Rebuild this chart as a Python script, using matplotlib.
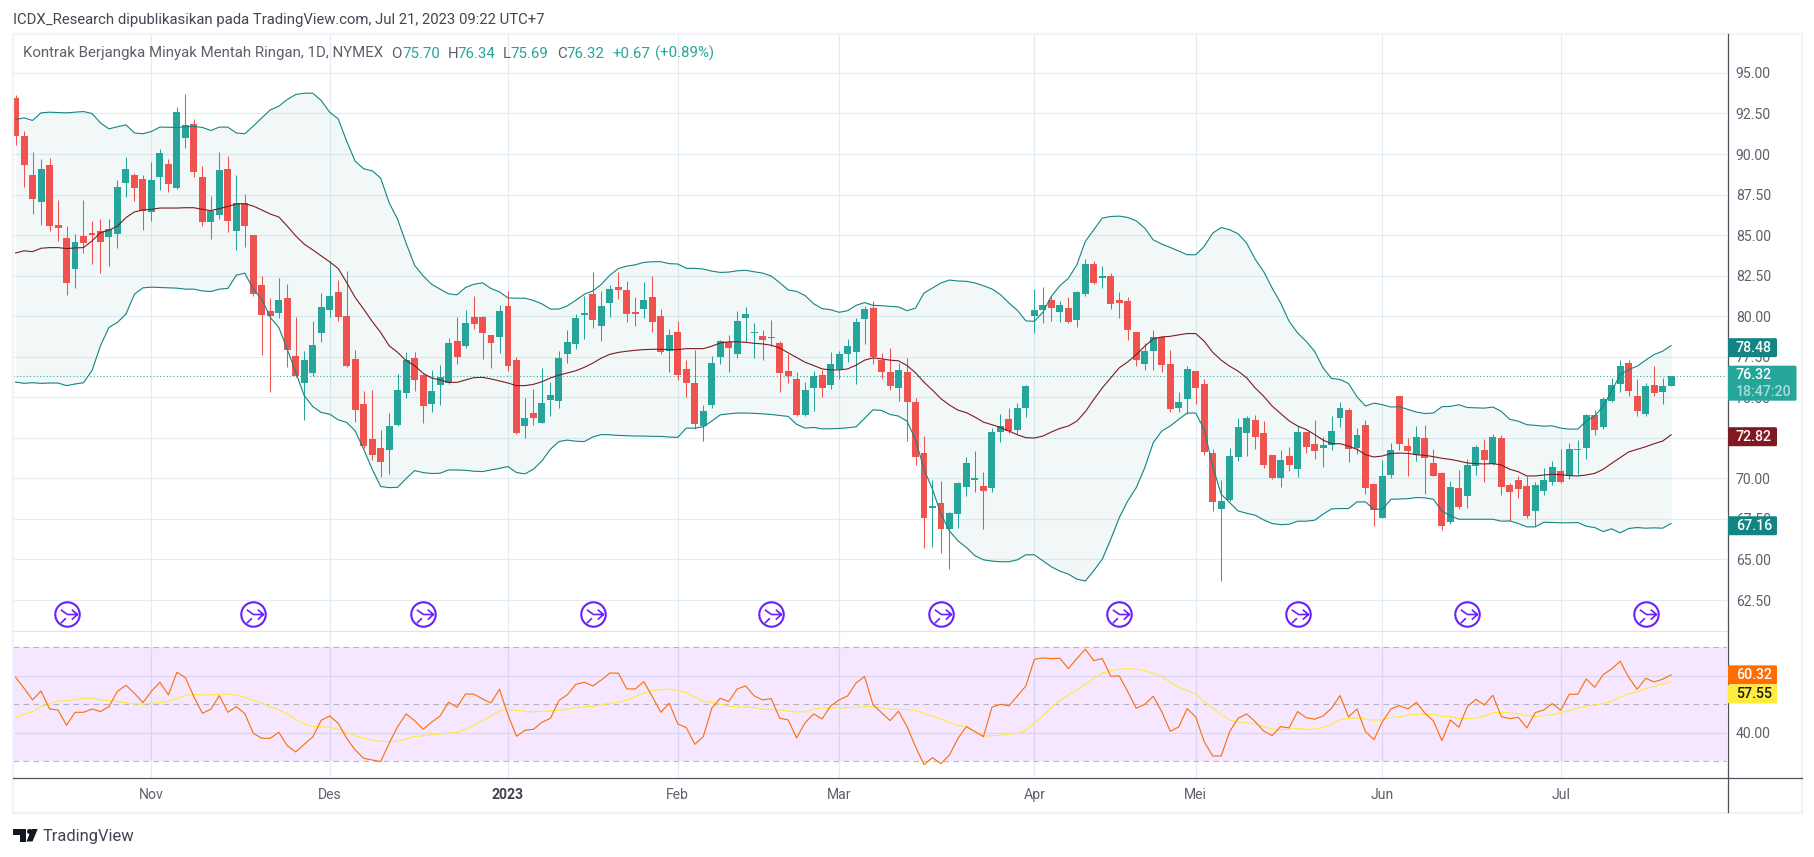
import matplotlib
matplotlib.use('Agg')
import matplotlib.pyplot as plt
import numpy as np
from matplotlib.lines import Line2D
from matplotlib.patches import FancyBboxPatch, Polygon, Circle, Rectangle
from matplotlib.path import Path
from matplotlib.transforms import Affine2D, IdentityTransform

plt.rcParams['font.family'] = ['Roboto', 'DejaVu Sans']

# daily candles
opens = [93.48,91.14,88.68,87.04,89.3,85.6,84.8,82.92,84.93,85.1,
    85.24,84.9,85.07,88.2,88.68,88.44,86.43,88.58,89.36,87.88,
    90.98,91.88,88.56,85.81,86.24,89.05,85.26,86.96,84.99,81.91,
    80.31,80.21,81.11,77.54,75.87,76.52,78.96,80.39,81.48,80.0,
    77.36,74.58,72.42,71.86,71.74,73.28,75.26,77.41,76.37,74.58,
    75.75,75.89,78.46,78.16,79.95,79.95,78.84,78.72,80.63,77.29,
    73.22,74.02,73.41,74.82,74.76,77.66,78.28,80.06,81.36,79.39,
    80.82,81.8,81.64,80.28,80.43,81.21,80.04,77.88,79.05,76.77,
    75.91,73.2,74.5,77.47,78.44,77.64,79.87,78.99,78.8,78.64,
    78.37,76.65,76.1,73.88,75.56,76.4,75.73,76.77,77.7,77.82,
    79.85,80.53,77.33,76.53,75.6,76.59,74.68,71.54,68.16,68.47,
    66.87,67.79,69.45,69.88,69.53,69.39,72.84,73.64,72.96,74.31,
    80.04,80.4,81.02,80.28,80.53,79.79,81.39,83.24,82.33,82.5,
    81.02,80.96,79.05,77.08,77.88,78.74,77.08,74.31,74.87,76.65,
    75.79,71.54,68.1,68.65,71.3,72.78,73.57,72.78,71.42,70.0,
    71.36,70.56,72.84,72.1,71.85,72.04,73.7,74.19,71.85,73.27,
    69.64,67.54,70.19,75.05,71.97,71.42,72.47,70.93,70.31,67.3,
    69.39,68.9,70.74,71.73,70.87,72.47,69.57,69.88,69.51,67.97,
    69.2,69.76,70.44,70.13,71.75,71.85,73.88,73.14,74.8,75.79,
    77.14,75.05,74.0,75.73,75.3,75.70]
closes = [91.1,89.32,87.23,89.1,85.56,85.44,82.06,84.56,84.5,85.0,
    84.6,85.36,87.94,89.1,87.9,86.47,88.37,90.04,88.15,92.62,
    91.8,88.89,85.81,86.49,88.99,85.87,86.96,85.54,81.36,80.09,
    80.03,81.0,77.91,76.29,77.29,78.22,80.56,81.24,79.96,76.95,
    74.21,71.99,71.45,71.02,73.22,75.44,77.29,76.06,74.45,75.38,
    76.24,78.34,77.47,79.58,79.52,78.96,78.34,80.32,76.93,72.79,
    73.71,73.71,74.64,75.13,77.41,78.4,79.88,80.19,79.76,80.63,
    81.68,81.6,80.12,80.12,81.02,79.63,77.82,78.87,76.36,75.87,
    73.33,74.13,77.14,78.5,78.03,79.73,80.16,79.05,78.56,78.72,
    76.49,76.3,73.88,75.42,76.34,75.6,77.08,77.7,78.19,79.67,
    80.47,77.51,76.59,75.67,76.71,74.74,71.3,67.54,68.32,66.87,
    67.85,69.7,70.93,70.0,69.2,72.84,73.2,72.9,74.37,75.67,
    80.4,80.71,80.53,80.71,79.67,81.51,83.24,82.07,82.5,80.77,
    80.84,79.17,77.33,77.88,78.74,77.02,74.25,74.74,76.77,75.6,
    71.6,68.53,68.59,71.36,73.14,73.7,72.53,70.81,70.0,71.11,
    70.81,72.84,71.91,71.67,72.04,72.9,74.37,71.79,72.65,69.39,
    68.04,70.13,71.73,72.1,71.67,72.53,71.24,70.13,67.05,69.45,
    68.22,70.81,71.91,71.11,72.53,69.45,69.14,69.33,67.67,69.57,
    69.88,70.68,69.76,71.79,71.79,73.88,72.96,74.87,75.73,76.9,
    75.36,74.13,75.67,75.24,75.67,76.32]
highs = [93.67,91.39,90.1,89.67,89.73,87.15,85.54,85.05,87.15,85.9,
    86,86,88.4,89.8,88.8,88.7,89.5,90.34,89.67,92.87,
    93.73,92.19,89.24,87.39,90.1,89.85,88.68,87.51,85.0,82.47,
    81.15,82.38,81.97,79.94,77.85,79.7,81.42,83.4,82.22,82.77,
    77.91,75.38,75.44,72.97,74.02,76.41,77.79,77.79,76.43,76.68,
    76.99,78.65,79.94,80.38,81.24,80.0,78.85,80.69,81.55,77.48,
    74.95,75.5,76.8,75.94,77.85,79.17,80.13,81.24,82.72,81.55,
    81.92,82.7,82.19,81.18,82.13,82.5,80.47,79.24,79.73,77.27,
    77.94,74.5,77.57,78.56,78.87,80.34,80.59,79.6,79.17,79.79,
    78.5,77.64,76.53,75.97,76.65,76.71,77.82,77.88,78.62,79.91,
    80.65,80.96,77.76,78.07,77.14,77.45,74.93,72.59,69.88,69.82,
    67.91,69.76,71.3,71.67,70.37,73.08,73.94,74.37,74.62,75.73,
    81.7,81.82,81.27,80.96,81.2,81.57,83.54,83.42,83.11,82.68,
    81.51,81.2,79.05,78.37,79.17,78.8,77.94,75.3,76.9,76.65,
    76.1,71.79,69.88,71.85,73.7,73.82,73.88,73.51,71.42,71.73,
    71.91,73.2,72.84,73.57,72.53,73.82,74.74,74.37,73.08,73.57,
    69.7,71.11,72.16,75.05,72.47,73.2,73.27,71.79,70.37,69.82,
    70.5,71.17,72.04,72.41,72.71,72.65,69.7,70.13,70.13,69.76,
    70.62,71.05,71.79,72.16,72.34,73.94,74.19,75.0,76.16,77.33,
    77.33,76.1,75.91,76.9,76.16,76.34]
lows = [90.53,87.96,86.3,85.6,85.26,84.64,81.3,81.75,83.9,83.2,
    82.67,83.1,84.2,87.35,87.1,85.3,85.9,87.78,87.66,87.84,
    90.4,88.58,85.54,84.76,86.0,85.2,84.09,84.27,81.26,77.63,
    75.35,79.9,76.85,76.23,73.63,76.33,78.43,79.97,79.68,76.85,
    73.49,71.9,71.14,70.09,70.26,73.22,74.95,75.38,73.41,74.08,
    74.52,75.8,77.05,78.04,79.2,77.36,76.8,77.73,76.62,72.73,
    72.48,73.28,73.41,73.84,74.33,77.11,77.97,78.59,79.27,78.46,
    79.95,81.06,79.67,79.42,79.91,79.05,77.64,76.53,76.04,74.99,
    73.02,72.28,74.37,77.08,76.53,77.45,78.39,77.45,77.27,78.19,
    75.3,75.91,73.82,73.82,74.13,74.99,75.54,76.1,77.2,75.85,
    78.31,77.08,76.1,75.42,74.8,72.28,70.81,65.7,65.76,65.39,
    64.4,66.93,68.9,69.14,66.87,69.14,72.22,72.77,72.71,73.76,
    78.99,79.6,79.73,79.67,79.6,79.36,81.27,82.0,81.76,80.47,
    79.91,78.56,76.96,76.71,76.71,76.53,74.07,74.07,74.0,74.56,
    71.42,67.97,63.67,68.59,71.05,71.36,71.79,70.63,69.94,69.45,
    70.46,70.07,71.54,71.17,70.68,71.73,73.14,70.99,71.48,69.02,
    67.05,67.54,70.0,71.73,70.13,71.05,69.02,70.13,66.8,67.17,
    68.1,68.16,70.19,69.76,70.81,68.96,67.36,68.77,67.54,67.05,
    68.96,69.57,69.7,69.94,70.25,71.17,72.65,73.02,74.74,75.3,
    75.11,73.82,73.82,75.05,74.56,75.69]

# bollinger bands
bb_upper = [92.13,92.23,92.07,92.54,92.58,92.56,92.54,92.58,92.62,92.5,
    91.92,91.55,91.68,91.8,91.3,91.25,91.39,91.66,91.65,91.64,
    91.68,91.7,91.64,91.45,91.66,91.66,91.3,91.25,91.72,92.23,
    92.72,92.95,93.36,93.67,93.75,93.75,93.3,92.58,92.17,90.79,
    89.56,89.09,88.97,88.52,87.0,85.97,84.5,83.14,82.49,81.97,
    81.67,81.38,81.32,81.77,81.97,82.06,81.71,81.5,81.13,81.11,
    81.11,80.97,80.76,80.44,80.44,80.64,80.99,81.36,81.56,81.97,
    82.53,82.94,83.09,83.17,83.32,83.36,83.36,83.24,83.22,82.95,
    82.95,82.91,82.78,82.7,82.72,82.8,82.83,82.74,82.66,82.48,
    82.07,81.62,81.53,81.27,80.77,80.47,80.4,80.24,80.34,80.67,
    80.84,80.67,80.65,80.61,80.57,80.34,80.5,81.43,81.74,82.05,
    82.23,82.17,82.15,82.05,81.88,81.68,81.33,80.82,80.36,79.71,
    79.69,80.24,81.23,81.88,82.33,83.17,84.61,85.33,86.05,86.15,
    86.17,86.09,85.88,85.43,84.71,84.45,84.24,84.02,83.79,83.79,
    84.3,85.12,85.47,85.33,85.08,84.51,83.52,82.76,81.74,80.82,
    79.69,78.97,78.46,77.84,76.82,76.16,76.1,75.85,75.03,74.46,
    74.64,74.54,74.4,74.42,74.25,74.09,74.0,74.03,74.42,74.44,
    74.54,74.37,74.35,74.33,74.4,74.13,73.64,73.53,73.31,73.27,
    73.22,73.24,73.1,73.04,73.04,73.53,73.84,74.46,75.38,76.41,
    76.71,76.92,77.29,77.64,77.84,78.19]
bb_mid = [83.9,84.03,83.98,84.19,84.23,84.23,84.17,84.21,84.23,84.64,
    85.15,85.3,85.56,86.08,86.43,86.55,86.59,86.67,86.67,86.67,
    86.69,86.69,86.59,86.51,86.63,86.77,86.92,86.94,86.79,86.55,
    86.3,86.12,85.56,84.95,84.44,84.09,83.72,83.35,82.94,82.08,
    81.15,80.44,79.68,79.0,78.18,77.77,77.26,76.95,76.48,76.19,
    76.07,75.92,75.92,76.07,76.21,76.23,76.13,76.01,75.88,75.72,
    75.72,75.8,75.96,76.19,76.37,76.5,76.64,76.85,77.11,77.42,
    77.65,77.77,77.84,77.9,77.94,77.96,77.96,77.94,77.94,78.0,
    78.0,78.0,78.15,78.35,78.42,78.42,78.39,78.33,78.29,78.21,
    78.05,77.74,77.45,77.16,76.96,76.75,76.69,76.69,76.75,76.98,
    77.29,77.43,77.37,77.29,77.25,76.96,76.51,75.93,75.44,74.91,
    74.52,74.21,74.05,73.78,73.47,73.31,73.14,72.92,72.69,72.51,
    72.49,72.61,72.86,73.08,73.23,73.53,74.11,74.87,75.58,76.2,
    76.82,77.18,77.64,78.15,78.6,78.72,78.76,78.85,78.93,78.93,
    78.46,77.78,77.29,76.92,76.61,76.2,75.58,75.07,74.46,74.0,
    73.55,73.23,73.02,72.71,72.36,72.14,72.14,71.99,71.79,71.46,
    71.32,71.38,71.54,71.56,71.54,71.46,71.42,71.34,71.24,71.17,
    71.07,70.95,70.91,70.89,70.91,70.83,70.56,70.41,70.15,70.15,
    70.21,70.25,70.23,70.17,70.15,70.21,70.31,70.56,70.93,71.28,
    71.63,71.79,71.95,72.14,72.3,72.69]
bb_lower = [75.94,75.86,75.9,75.86,75.88,75.88,75.72,75.82,75.9,76.64,
    78.18,79.31,79.62,80.13,81.36,81.75,81.79,81.77,81.75,81.73,
    81.67,81.67,81.56,81.52,81.67,81.71,82.53,82.65,81.67,81.05,
    79.92,79.31,77.97,76.54,75.1,74.43,74.06,73.96,73.61,73.45,
    72.93,71.8,70.57,69.5,69.43,69.45,69.99,70.48,70.36,70.3,
    70.32,70.52,70.52,70.5,70.44,70.42,70.52,70.62,70.73,70.36,
    70.28,70.57,71.08,71.8,72.27,72.36,72.29,72.27,72.56,72.7,
    72.69,72.65,72.63,72.61,72.61,72.59,72.59,72.55,72.53,73.1,
    73.1,73.18,73.53,73.92,73.98,74.03,74.03,74.01,73.98,73.94,
    73.88,73.82,73.33,73.1,73.14,73.06,73.06,73.08,73.12,73.18,
    73.7,74.23,74.19,73.94,73.84,73.53,72.4,70.56,69.33,67.79,
    66.76,66.15,65.74,65.23,64.98,64.9,64.86,64.86,64.98,65.29,
    65.29,64.92,64.55,64.28,64.1,63.79,63.67,64.31,65.02,66.25,
    67.58,68.61,69.43,70.66,72.2,72.92,73.23,73.64,74.03,74.03,
    73.02,70.76,69.02,68.51,67.99,67.85,67.73,67.44,67.22,67.15,
    67.17,67.36,67.36,67.42,67.79,68.12,68.14,68.14,68.55,68.55,
    68.1,68.1,68.71,68.73,68.75,68.82,68.8,68.71,67.99,67.69,
    67.48,67.48,67.48,67.48,67.48,67.36,67.38,67.22,67.01,67.01,
    67.3,67.28,67.26,67.26,67.28,67.05,66.97,66.72,66.89,66.64,
    66.91,66.97,66.93,66.95,66.93,67.22]

# rsi pane
rsi = [59.47,55.61,51.52,54.68,48.36,48.01,42.63,47.19,47.19,48.36,
    47.43,49.18,54.56,56.67,53.86,50.58,54.56,57.72,53.27,61.23,
    59.36,52.69,46.84,48.25,53.04,47.19,49.18,46.73,39.82,38.07,
    38.07,40.18,35.5,33.27,35.96,38.54,44.39,45.91,43.33,38.07,
    33.98,31.05,30.47,29.88,36.32,42.16,46.61,44.27,41.23,43.68,
    45.91,50.7,48.95,53.63,53.51,51.87,50.47,55.26,46.26,38.77,
    40.88,41.23,43.68,45.09,51.29,53.39,57.02,57.72,56.43,58.54,
    60.99,60.88,55.38,55.38,57.95,52.69,47.19,50.35,43.1,41.81,
    35.96,38.65,48.6,52.11,50.94,55.38,56.43,52.92,51.52,51.99,
    45.09,44.5,38.19,43.57,46.61,44.85,49.42,51.52,52.92,57.49,
    59.71,49.77,47.08,44.27,47.54,42.16,35.15,28.83,31.29,29.18,
    32.22,38.07,42.16,40.41,38.65,48.95,50.0,49.42,52.92,56.43,
    65.79,66.26,66.02,66.14,62.51,66.02,69.3,65.32,66.02,59.82,
    59.94,54.44,48.6,50.0,52.81,47.43,40.53,42.05,48.48,45.56,
    36.9,31.87,31.87,40.41,45.09,46.61,43.92,40.64,39.01,42.16,
    41.7,47.43,45.32,44.74,45.91,48.6,53.04,45.56,48.36,40.41,
    37.6,43.92,48.36,49.53,48.36,50.7,46.84,44.15,37.25,44.5,
    41.93,49.18,51.75,49.77,53.16,45.67,44.97,45.44,41.7,47.08,
    48.01,50.23,47.89,53.51,53.51,58.89,55.96,60.41,62.4,65.09,
    59.47,55.26,59.12,57.84,58.77,60.32]
rsi_ma = [45.32,46.61,47.43,49.18,50.12,51.17,51.17,51.64,52.11,52.11,
    51.52,51.29,50.94,50.47,50.12,50.12,50.35,50.58,51.05,51.99,
    53.16,53.39,53.27,53.27,53.63,53.51,53.16,52.46,51.4,50.47,
    49.18,48.01,46.61,44.74,42.98,42.28,42.05,41.93,41.23,40.18,
    39.01,38.07,37.49,37.02,36.9,37.02,37.84,38.65,39.01,39.36,
    39.59,39.82,40.18,41.23,42.75,44.27,45.91,47.66,48.25,47.89,
    47.54,47.31,47.43,47.66,47.89,48.36,48.83,49.06,49.3,49.77,
    50.35,50.82,51.4,52.69,53.98,54.91,55.03,55.38,54.8,53.98,
    52.69,51.05,50.58,50.0,49.3,49.06,49.06,48.83,48.25,48.25,
    48.01,47.66,47.31,47.43,48.25,48.71,48.71,48.71,48.83,48.95,
    49.18,49.06,48.83,48.25,48.25,48.13,47.89,46.73,45.79,44.74,
    43.57,42.63,42.05,40.41,38.89,39.01,39.12,39.47,39.82,40.88,
    43.33,45.91,48.95,51.29,53.27,55.03,57.02,59.12,60.88,61.7,
    62.28,62.51,62.28,61.81,60.88,59.71,57.72,56.08,54.91,53.51,
    50.94,48.6,46.26,44.5,43.8,43.45,43.22,42.16,41.35,41.0,
    41.35,41.46,41.23,41.23,41.81,42.98,44.62,45.09,45.2,44.85,
    44.39,44.62,45.32,45.67,46.26,46.49,46.49,46.49,45.79,45.67,
    44.97,44.97,45.2,45.91,47.08,47.19,46.96,46.61,46.02,45.79,
    45.91,46.37,47.08,47.78,48.6,49.42,49.65,50.35,51.05,52.57,
    53.63,54.33,55.5,56.32,57.02,57.84]

month_idx = [16, 37, 58, 78, 97, 120, 139, 161, 182]
month_labels = ['Nov', 'Des', '2023', 'Feb', 'Mar', 'Apr', 'Mei', 'Jun', 'Jul']
rollover_idx = [6, 28, 48, 68, 89, 109, 130, 151, 171, 192]
price_ticks = [62.5, 65, 67.5, 70, 72.5, 75, 77.5, 80, 82.5, 85, 87.5, 90, 92.5, 95]

GREEN = '#26a69a'
RED = '#ef5350'
TEAL = '#138484'
MAROON = '#801922'
GRID = '#e1edf3'
AXIS = '#50535e'
TXT = '#5d606b'

W, H = 1815, 857
fig = plt.figure(figsize=(W / 100, H / 100), dpi=100, facecolor='white')
px = Affine2D().scale(1, -1).translate(0, H)   # screenshot pixels, origin top left


def pane(top, bottom):
    return fig.add_axes([13.2 / W, 1 - bottom / H, (1727.5 - 13.2) / W, (bottom - top) / H])


ax = pane(34.5, 631)
ax2 = pane(631, 778)
x = np.arange(len(opens))
o, h, l, c = map(np.array, (opens, highs, lows, closes))
colors = [GREEN if c[i] >= o[i] else RED for i in x]

# wicks and bodies
ax.vlines(x, l, h, colors=colors, lw=0.75, zorder=3)
ax.bar(x, np.maximum(np.abs(c - o), 0.04), bottom=np.minimum(o, c), width=0.82, color=colors, lw=0, zorder=4)

ax.fill_between(x, bb_upper, bb_lower, color=TEAL, alpha=0.05, lw=0, zorder=2)
ax.plot(x, bb_upper, color=TEAL, lw=0.8, zorder=5)
ax.plot(x, bb_lower, color=TEAL, lw=0.8, zorder=5)
ax.plot(x, bb_mid, color=MAROON, lw=0.8, zorder=5)
ax.axhline(closes[-1], color=GREEN, lw=0.75, ls=(0, (1, 2.2)), zorder=2.5)

# contract rollover marks
icon = Path([(-0.5, 0.35), (0, 0), (0.75, 0), (0.32, 0.36), (0.75, 0), (0.32, -0.38), (-0.5, -0.65), (-0.12, -0.28)],
            [Path.MOVETO, Path.LINETO, Path.LINETO, Path.MOVETO, Path.LINETO, Path.LINETO, Path.MOVETO, Path.LINETO])
icon_y = 62.5 - (614.3 - 600) / 16.215
ax.plot(rollover_idx, [icon_y] * len(rollover_idx), ls='', marker='o', ms=17.6, mfc='white', mec='#6a1fff', mew=1.5, zorder=6)
ax.plot(rollover_idx, [icon_y] * len(rollover_idx), ls='', marker=icon, ms=14.4, mfc='none', mec='#6a1fff', mew=1.2, zorder=7)

ax.set_xlim(-0.28, 201.64)
ax.set_ylim(60.59, 97.37)
ax.set_yticks(price_ticks)
ax.set_yticklabels(['%.2f' % t for t in price_ticks])

# rsi
ax2.axhspan(30, 70, color='#9915ff', alpha=0.1, lw=0, zorder=2)
for lev in (30, 50, 70):
    ax2.axhline(lev, color='#787b86', alpha=0.5, lw=0.8, ls=(0, (5, 4)), zorder=2.5)
ax2.plot(x, rsi_ma, color='#ffeb3b', lw=0.8, zorder=4)
ax2.plot(x, rsi, color='#ff6d00', lw=0.8, zorder=5)
ax2.set_xlim(-0.28, 201.64)
ax2.set_ylim(24.14, 75.7)
ax2.set_yticks([40, 60])
ax2.set_yticklabels(['40.00', '60.00'])

for a in (ax, ax2):
    a.set_facecolor('white')
    for s in a.spines.values():
        s.set_visible(False)
    a.yaxis.tick_right()
    a.set_axisbelow(True)
    a.grid(True, color=GRID, lw=0.85)
    a.set_xticks(month_idx)
    a.tick_params(axis='both', length=0, labelsize=10.1, labelcolor=TXT)
    a.tick_params(axis='y', pad=6)
ax.tick_params(axis='x', labelbottom=False)
ax2.set_xticklabels(month_labels)
ax2.tick_params(axis='x', pad=7)
for t in ax2.get_xticklabels():
    if t.get_text() == '2023':
        t.set_fontweight('bold')
        t.set_color('#3f424c')

# frame and pane borders
fig.add_artist(Rectangle((13, 34), 1789, 778.5, transform=px, fill=False, ec='#f0f3fa', lw=1.6))
fig.add_artist(Line2D([13, 1727.5], [631, 631], transform=px, color='#e0e3eb', lw=0.9))
fig.add_artist(Line2D([13, 1802], [778, 778], transform=px, color=AXIS, lw=0.9))
fig.add_artist(Line2D([1727.5, 1727.5], [34, 812], transform=px, color=AXIS, lw=0.9))


def badge(value_y, axes, width, height, color):
    # rounded tag on the price scale, centred on a value of that pane
    y = axes.transData.transform((0, value_y))[1]
    x0 = 1728
    fig.add_artist(FancyBboxPatch((x0 + 1.5, y - height / 2 + 1.5), width - 3, height - 3,
                                  boxstyle='round,pad=1.5', transform=IdentityTransform(),
                                  fc=color, ec='none', zorder=10))
    return y


def badge_text(y, s, color='white'):
    fig.text(1736 / W, y / H, s, color=color, fontsize=10.2, fontweight='medium', va='center', ha='left', zorder=11)


# tags: (position on its scale, shown text, colour)
price_tags = [(78.06, '78.48', TEAL), (72.57, '72.82', MAROON), (67.08, '67.16', TEAL)]
rsi_tags = [(60.32, '60.32', '#ff6d00', 'white'), (53.6, '57.55', '#ffeb3b', '#131722')]
for pos, s, col in price_tags:
    badge_text(badge(pos, ax, 49, 19, col), s)
for pos, s, col, tc in rsi_tags:
    badge_text(badge(pos, ax2, 49, 19, col), s, tc)
yb = badge(76.32 - 0.45, ax, 68.5, 35, GREEN)
badge_text(yb + 8.5, '76.32')
badge_text(yb - 8.5, '18:47:20', '#a8dcd7')

# header texts
fig.text(13 / W, 1 - 20 / H, 'ICDX_Research dipublikasikan pada TradingView.com, Jul 21, 2023 09:22 UTC+7',
         fontsize=10.75, color='#444752', va='center')
fig.text(23 / W, 1 - 53.5 / H, 'Kontrak Berjangka Minyak Mentah Ringan, 1D, NYMEX', fontsize=10.8, color=TXT, va='center')
header_bits = [(391, 'O', TXT), (402, '75.70', GREEN), (448, 'H', TXT), (457, '76.34', GREEN), (503, 'L', TXT),
               (510, '75.69', GREEN), (557, 'C', TXT), (566, '76.32', GREEN), (612, '+0.67', GREEN), (655, '(+0.89%)', GREEN)]
for hx, s, col in header_bits:
    fig.text(hx / W, 1 - 53.5 / H, s, fontsize=10.8, color=col, va='center')

# tradingview logo
logo = '#131722'
fig.add_artist(Polygon([(13, 829), (26, 829), (26, 841.5), (19.5, 841.5), (19.5, 835), (13, 835)], transform=px, fc=logo, ec='none'))
fig.add_artist(Circle((29.5, 831.5), 2.5, transform=px, fc=logo, ec='none'))
fig.add_artist(Polygon([(31.5, 829), (37.7, 829), (32.5, 841.5), (26.5, 841.5)], transform=px, fc=logo, ec='none'))
fig.text(42.5 / W, 1 - 836 / H, 'TradingView', fontsize=11.9, color='#3f4452', va='center')

fig.savefig('out.png', dpi=100)
